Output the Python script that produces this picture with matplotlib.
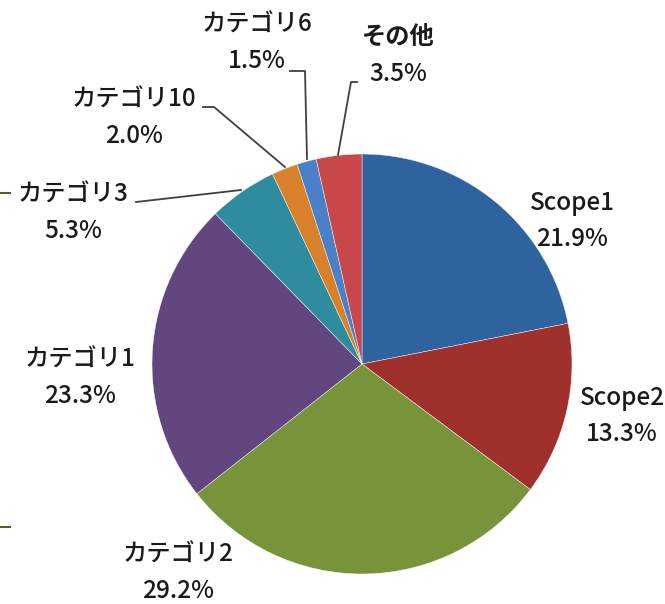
import matplotlib
matplotlib.use('Agg')
import matplotlib.pyplot as plt
from matplotlib.lines import Line2D

plt.rcParams['font.family'] = ['Noto Sans CJK JP', 'DejaVu Sans']

# data, clockwise from 12 o'clock
labels = ['Scope1', 'Scope2', 'カテゴリ2', 'カテゴリ1', 'カテゴリ3', 'カテゴリ10', 'カテゴリ6', 'その他']
shares = [21.9, 13.3, 29.2, 23.3, 5.3, 2.0, 1.5, 3.5]
colors = ['#2E63A0', '#A0302C', '#77943A', '#61467F', '#2F8C9E', '#D9802A', '#4A80C8', '#C8484A']

W, H = 665, 604
# label text positions in pixels (x center, y of first line)
label_pos = [(572, 203), (622, 398), (178, 555), (80, 360), (73, 195), (134, 100), (257, 25), (398, 38)]
# leader lines in pixels
leaders = {
    'カテゴリ3': [(136, 202), (241, 190)],
    'カテゴリ10': [(203, 107), (214, 107), (285, 167)],
    'カテゴリ6': [(290, 71), (305, 71), (307, 159)],
    'その他': [(357, 82), (351, 82), (338, 155)],
}

fig = plt.figure(figsize=(W / 100, H / 100), dpi=100)
ax = fig.add_axes([0, 0, 1, 1])

ax.pie(shares, colors=colors, startangle=90, counterclock=False,
       center=(362, H - 364), radius=210,
       wedgeprops=dict(edgecolor='white', linewidth=0.3))
ax.set_xlim(0, W)
ax.set_ylim(0, H)
ax.set_aspect('equal')
ax.axis('off')

for name, val, (x, y) in zip(labels, shares, label_pos):
    wt = 'bold' if name == 'その他' else 'medium'
    ax.text(x, H - y, name, ha='center', va='center', fontsize=17.5, color='#1a1a1a', fontweight=wt)
    ax.text(x, H - y - 36, f'{val:.1f}%', ha='center', va='center', fontsize=17.5, color='#1a1a1a', fontweight='medium')

for name, pts in leaders.items():
    xs = [p[0] for p in pts]
    ys = [H - p[1] for p in pts]
    ax.plot(xs, ys, color='#404040', lw=1.3)

# small green marks at the left edge
for yy in (193, 527):
    fig.add_artist(Line2D([0, 10 / W], [1 - yy / H, 1 - yy / H], color='#4F6228', lw=1.5))

fig.savefig('out.png', dpi=100)
